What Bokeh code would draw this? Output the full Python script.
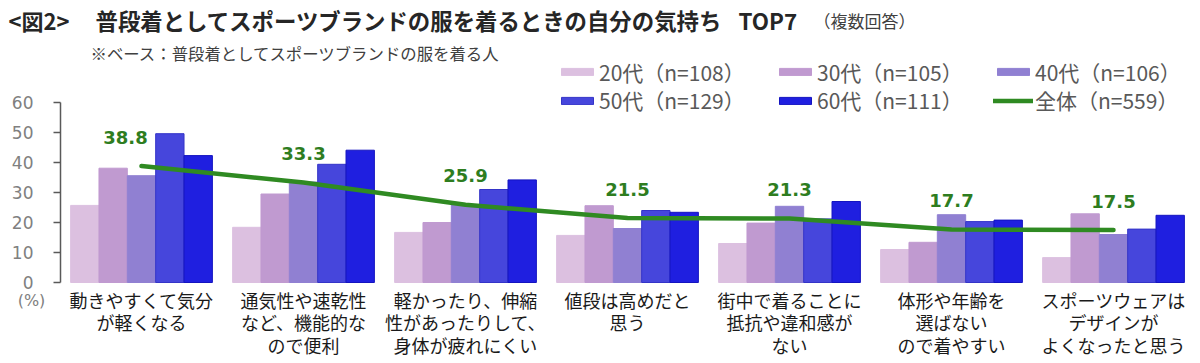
from bokeh.plotting import figure
from bokeh.models import (Range1d, ColumnDataSource, Legend, LegendItem,
                          Label, LabelSet, FixedTicker)
from bokeh.transform import dodge
from bokeh.core.properties import value
from bokeh.embed import file_html
from bokeh.resources import INLINE

# ---------------- data ----------------
categories = [
    "動きやすくて気分\nが軽くなる",
    "通気性や速乾性\nなど、機能的な\nので便利",
    "軽かったり、伸縮\n性があったりして、\n身体が疲れにくい",
    "値段は高めだと\n思う",
    "街中で着ることに\n抵抗や違和感が\nない",
    "体形や年齢を\n選ばない\nので着やすい",
    "スポーツウェアは\nデザインが\nよくなったと思う",
]
series_names = ["20代（n=108）", "30代（n=105）", "40代（n=106）", "50代（n=129）", "60代（n=111）"]
total_name = "全体（n=559）"
age20 = [25.7, 18.4, 16.7, 15.7, 13.0, 11.0, 8.3]
age30 = [38.1, 29.5, 20.0, 25.6, 19.8, 13.4, 22.9]
age40 = [35.6, 33.5, 25.8, 18.0, 25.4, 22.6, 16.0]
age50 = [49.6, 39.4, 31.0, 24.0, 21.2, 20.3, 17.8]
age60 = [42.3, 44.1, 34.2, 23.4, 27.0, 20.8, 22.4]
overall = [38.8, 33.3, 25.9, 21.5, 21.3, 17.7, 17.5]
y_ticks = [0, 10, 20, 30, 40, 50, 60]

fig_no = "<図2>"
title_text = "普段着としてスポーツブランドの服を着るときの自分の気持ち"
title_top = "TOP7"
title_note = "（複数回答）"
subtitle = "※ベース：普段着としてスポーツブランドの服を着る人"
unit_text = "(%)"

# ---------------- style / layout ----------------
bar_colors = ["#dcc0e0", "#c09ad0", "#9080d2", "#4646dc", "#1f1fe0"]
bar_lines = ["#dcc0e0", "#c09ad0", "#9080d2", "#3434c8", "#1414c0"]
green_line = "#2f8a22"
green_text = "#2e7d1f"
label_dx = [-16, 0, 0, 0, 0, 0, 0]
JP = "Noto Sans CJK JP"
NUM = "DejaVu Sans"

W, H = 1200, 363
AXIS_X = 60          # px of the y axis
PITCH = 162          # px per category
Y0_PX, Y60_PX = 282, 102
PPU = (Y0_PX - Y60_PX) / 60.0

cat_x = [i + 0.5 for i in range(len(categories))]

src = ColumnDataSource(dict(x=cat_x, a20=age20, a30=age30, a40=age40,
                            a50=age50, a60=age60, overall=overall,
                            label=[f"{v:.1f}" for v in overall], dx=label_dx))

# category label lines (one row per text line)
cl_x, cl_text, cl_dy = [], [], []
for xi, c in zip(cat_x, categories):
    for j, line in enumerate(c.split("\n")):
        cl_x.append(xi)
        cl_text.append(line)
        cl_dy.append(-(17 + 22.5 * j))
cat_src = ColumnDataSource(dict(x=cl_x, text=cl_text, dy=cl_dy, y=[0] * len(cl_x)))

x_range = Range1d(-AXIS_X / PITCH, (W - AXIS_X) / PITCH)
y_range = Range1d(-(H - Y0_PX) / PPU, 60 + Y60_PX / PPU)

p = figure(width=W, height=H, x_range=x_range, y_range=y_range,
           output_backend="svg", toolbar_location=None, title=None,
           min_border=0, min_border_left=0, min_border_right=0,
           min_border_top=0, min_border_bottom=0)
p.outline_line_color = None
p.xgrid.grid_line_color = None
p.ygrid.grid_line_color = None
p.background_fill_color = "white"
p.border_fill_color = "white"

bw = 0.175
cols = ["a20", "a30", "a40", "a50", "a60"]
renderers = []
for i, c in enumerate(cols):
    r = p.vbar(x=dodge("x", (i - 2) * bw), top=c, width=bw, source=src,
               fill_color=bar_colors[i], line_color=bar_lines[i], line_width=1)
    renderers.append(r)

lr = p.line(x="x", y="overall", source=src, line_width=4.5, line_color=green_line,
            line_cap="round", line_join="round")

p.add_layout(LabelSet(x="x", y="overall", text="label", source=src, x_offset="dx",
                      y_offset=29, text_align="center", text_baseline="middle",
                      text_font=value(NUM), text_font_style="bold", text_font_size="18px",
                      text_color=green_text))

# category labels under the groups
p.add_layout(LabelSet(x="x", y="y", text="text", source=cat_src, y_offset="dy",
                      text_align="center", text_baseline="middle",
                      text_font=value(JP), text_font_size="18px", text_color="#1a1a1a"))

# axes
ya = p.yaxis[0]
ya.fixed_location = 0
ya.ticker = FixedTicker(ticks=y_ticks)
ya.bounds = (0, 60)
ya.axis_line_color = "#595959"
ya.axis_line_width = 1.5
ya.major_tick_line_color = "#595959"
ya.major_tick_line_width = 1.5
ya.major_tick_in = 0
ya.major_tick_out = 7
ya.minor_tick_line_color = None
ya.major_label_text_font = NUM
ya.major_label_text_font_size = "17px"
ya.major_label_text_color = "#808080"
ya.major_label_standoff = 20

p.xaxis.visible = False

# legend (two rows)
row1 = [LegendItem(label=series_names[i], renderers=[renderers[i]]) for i in range(3)]
row2 = [LegendItem(label=series_names[i], renderers=[renderers[i]]) for i in range(3, 5)]
row2.append(LegendItem(label=total_name, renderers=[lr]))
for items, center in ((row1, 73.3), (row2, 101.7)):
    lg = Legend(items=items, location=(557, H - (center + 13.5)), orientation="horizontal",
                glyph_width=40, glyph_height=9, spacing=26, label_width=150,
                label_height=20,
                label_text_font=JP, label_text_font_size="21px", label_text_color="#595959",
                label_standoff=2, padding=0, margin=0, border_line_color=None,
                background_fill_alpha=0)
    p.add_layout(lg, "center")

# texts (screen units: x from left, y from bottom of the canvas)
def add_text(x, y_top, text, size, color, bold=False, font=JP, align="left"):
    p.add_layout(Label(x=x, y=H - y_top, x_units="screen", y_units="screen", text=text,
                       text_font=font, text_font_style="bold" if bold else "normal",
                       text_font_size=size, text_color=color, text_baseline="middle",
                       text_align=align))

add_text(8, 19, fig_no, "22px", "#262626", bold=True)
add_text(95, 19, title_text, "22.4px", "#262626", bold=True)
add_text(738, 19, title_top, "22.4px", "#262626", bold=True)
add_text(813, 20, title_note, "17px", "#404040")
add_text(90, 52, subtitle, "16.4px", "#404040")
add_text(31, 300, unit_text, "16px", "#808080", font=NUM, align="center")

open("out.html", "w").write(file_html(p, INLINE))
